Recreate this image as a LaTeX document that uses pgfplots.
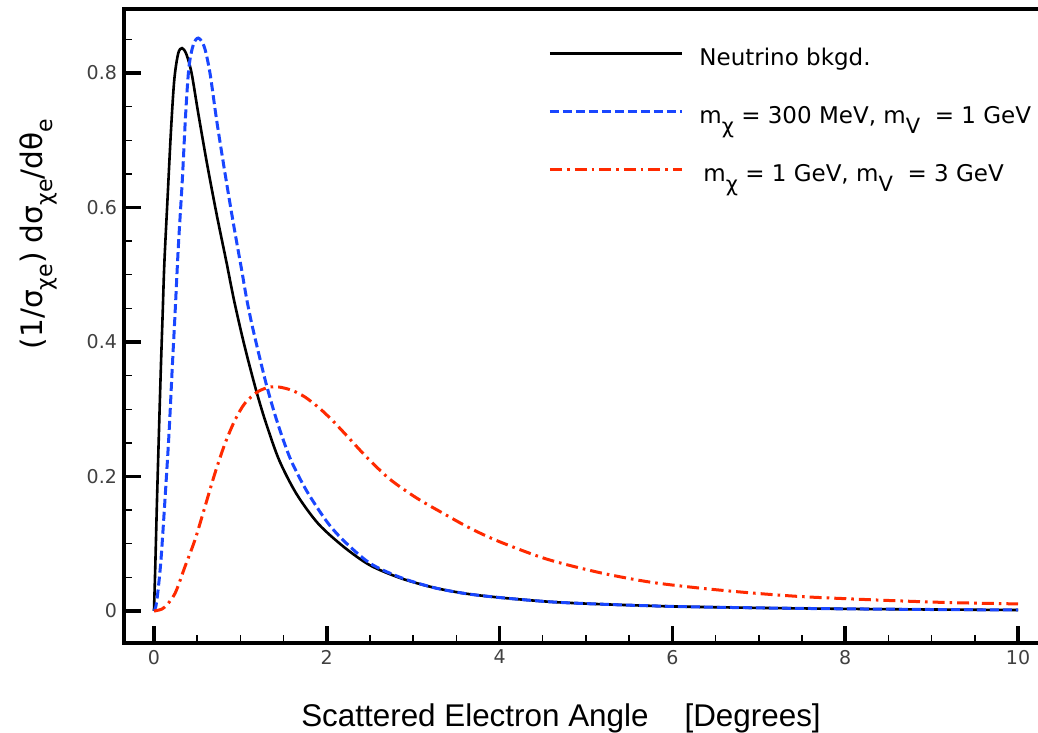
\documentclass[border=0pt]{standalone}
\usepackage{fontspec}
\setmainfont{DejaVu Sans}
\newfontfamily\labfont{Liberation Sans}
\usepackage{pgfplots}
\pgfplotsset{compat=1.18}
\definecolor{bluecurve}{HTML}{1946FF}
\definecolor{redcurve}{HTML}{FF2A00}
% lowered subscript in text font: size, drop, text
\newcommand{\sub}[3]{\raisebox{-#2}{\fontsize{#1}{#1}\selectfont #3}}

\begin{document}
\begin{tikzpicture}
\begin{axis}[
    scale only axis,
    width=460.5pt, height=317pt,
    xmin=-0.347, xmax=10.3125,
    ymin=-0.0476, ymax=0.8952,
    axis line style={line width=2.4pt},
    xtick={0,2,4,6,8,10},
    ytick={0,0.2,0.4,0.6,0.8},
    minor xtick={0.5,1,1.5,2.5,3,3.5,4.5,5,5.5,6.5,7,7.5,8.5,9,9.5},
    minor ytick={0.05,0.1,0.15,0.25,0.3,0.35,0.45,0.5,0.55,0.65,0.7,0.75,0.85},
    tick pos=left, tick align=inside,
    major tick length=8.5pt, minor tick length=4pt,
    every major tick/.append style={line width=1.8pt, black},
    every minor tick/.append style={line width=0.7pt, black},
    /pgf/number format/assume math mode=true,
    tick label style={font=\fontsize{9.5}{11}\selectfont, text=black!75},
    xlabel={\labfont Scattered Electron Angle\hspace{18pt}[Degrees]},
    xlabel style={font=\fontsize{15.7}{17}\selectfont,
        at={(axis description cs:0.4745,-0.131)}, anchor=base},
    ylabel={(1/σ\sub{11}{0.6ex}{χe}) dσ\sub{11}{0.6ex}{χe}/dθ\sub{11}{0.6ex}{e}},
    ylabel style={font=\fontsize{14.8}{17}\selectfont,
        at={(axis description cs:-0.088,0.645)}, anchor=base},
    legend cell align=left,
    legend style={draw=none, fill=none, inner sep=0pt,
        at={(axis description cs:0.4604,0.940)}, anchor=north west,
        font=\fontsize{11.5}{13}\selectfont,
        row sep=16pt, column sep=8pt,
        nodes={inner sep=0pt, text height=9pt, text depth=4pt}},
    legend image code/.code={\draw[#1] (0pt,3.5pt) -- (66pt,3.5pt);},
]
\addplot[black, line width=1.3pt, smooth] coordinates {
(0,0) (0.015,0.066) (0.035,0.165) (0.057,0.264) (0.08,0.363) (0.1,0.44)
(0.12,0.517) (0.158,0.616) (0.197,0.715) (0.235,0.79) (0.28,0.829)
(0.325,0.837) (0.375,0.828) (0.435,0.8) (0.51,0.742) (0.61,0.668)
(0.725,0.590) (0.84,0.518) (0.92,0.466) (1.0,0.420) (1.06,0.388)
(1.12,0.358) (1.2,0.320) (1.3,0.278) (1.45,0.224) (1.65,0.174) (1.9,0.13)
(2.2,0.095) (2.5,0.068) (2.85,0.049) (3.23,0.035) (3.6,0.026) (4,0.02)
(4.6,0.0135) (5.2,0.01) (6,0.0068) (7,0.0046) (8,0.0032) (9,0.0022) (10,0.0015)
};
\addlegendentry{Neutrino bkgd.}
\addplot[bluecurve, line width=1.5pt, smooth, dash pattern=on 4.5pt off 2pt] coordinates {
(0,0) (0.02,0.006) (0.043,0.026) (0.081,0.076) (0.127,0.165) (0.174,0.264)
(0.212,0.363) (0.243,0.44) (0.282,0.542) (0.328,0.641) (0.367,0.74)
(0.405,0.809) (0.455,0.842) (0.513,0.852) (0.582,0.839) (0.648,0.8)
(0.725,0.73) (0.822,0.651) (0.918,0.577) (1.015,0.507) (1.07,0.466)
(1.13,0.428) (1.21,0.384) (1.3,0.337) (1.4,0.292) (1.5,0.253) (1.6,0.220)
(1.77,0.178) (2.0,0.133) (2.2,0.104) (2.5,0.071) (2.85,0.05) (3.23,0.035)
(3.6,0.026) (4,0.02) (4.6,0.0135) (5.2,0.01) (6,0.0068) (7,0.0046)
(8,0.0032) (9,0.0022) (10,0.0015)
};
\addlegendentry{m\sub{10.5}{0.8ex}{χ} = 300 MeV, m\sub{10.5}{0.8ex}{V}\ \ = 1 GeV}
\addplot[redcurve, line width=1.5pt, smooth,
    dash pattern=on 6pt off 2.5pt on 1.3pt off 2.5pt] coordinates {
(0,0) (0.06,0.0015) (0.127,0.006) (0.243,0.026) (0.359,0.066) (0.475,0.106)
(0.59,0.155) (0.706,0.205) (0.822,0.249) (0.938,0.284) (1.053,0.309)
(1.2,0.326) (1.34,0.333) (1.45,0.333) (1.6,0.328) (1.75,0.318) (1.92,0.301)
(2.06,0.284) (2.2,0.265) (2.46,0.229) (2.73,0.196) (3.04,0.168) (3.35,0.145)
(3.66,0.123) (4,0.103) (4.55,0.077) (5.16,0.057) (5.74,0.043) (6.32,0.034)
(6.9,0.027) (7.48,0.0215) (8.06,0.018) (8.63,0.015) (9.21,0.0125) (10,0.0105)
};
\addlegendentry{\hspace{2pt}m\sub{10.5}{0.8ex}{χ} = 1 GeV, m\sub{10.5}{0.8ex}{V}\ \ = 3 GeV}
\end{axis}
\pgfresetboundingbox
\path[use as bounding box] (-62pt,-45pt) rectangle (457pt,321.5pt);
\end{tikzpicture}
\end{document}
